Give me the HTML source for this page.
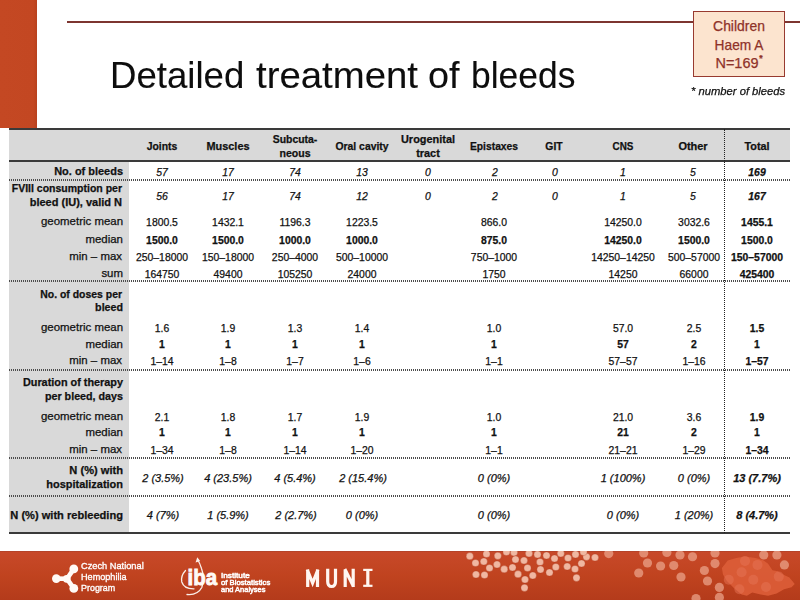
<!DOCTYPE html>
<html><head><meta charset="utf-8"><style>
html,body{margin:0;padding:0;}
body{width:800px;height:600px;position:relative;overflow:hidden;background:#fff;font-family:"Liberation Sans", sans-serif;color:#111;}
.t{position:absolute;white-space:nowrap;-webkit-text-stroke-width:0.25px;}
.a{position:absolute;}
.dh{left:9px;width:781px;height:2px;background:repeating-linear-gradient(90deg,#4d4d4d 0,#4d4d4d 1px,rgba(255,255,255,0) 1px,rgba(255,255,255,0) 2px);}
</style></head><body>
<div class="a" style="left:0;top:0;width:37px;height:128px;background:linear-gradient(90deg,#c44823 0%,#c34722 90%,#b8411e 100%);"></div>
<div class="a" style="left:67px;top:21px;width:733px;height:2px;background:#7d3530;"></div>
<div class="a" style="left:693.2px;top:11.3px;width:89.6px;height:63.3px;background:#fce4cf;border:1.5px solid #983a30;"></div>
<div class="a" style="left:9px;top:129px;width:781px;height:32px;background:#d9d9d9;"></div>
<div class="a" style="left:9px;top:161px;width:120px;height:372px;background:#d9d9d9;"></div>
<div class="a" style="left:9px;top:128px;width:781px;height:2px;background:#3a3a3a;"></div>
<div class="a" style="left:9px;top:160px;width:781px;height:2px;background:#3a3a3a;"></div>
<div class="a" style="left:9px;top:532px;width:781px;height:2px;background:#3a3a3a;"></div>
<div class="a dh" style="top:179px;"></div>
<div class="a dh" style="top:280.3px;"></div>
<div class="a dh" style="top:368.6px;"></div>
<div class="a dh" style="top:456.7px;"></div>
<div class="a dh" style="top:494.6px;"></div>
<div class="a" style="left:723.8px;top:129px;width:0;height:404px;border-left:1.2px dotted #222;"></div>
<svg class="a" style="left:0;top:0" width="800" height="600" viewBox="0 0 800 600">
<defs><linearGradient id="fg" x1="0" y1="0" x2="0" y2="1"><stop offset="0" stop-color="#c8492a"/><stop offset="0.5" stop-color="#c0431f"/><stop offset="1" stop-color="#b43b1b"/></linearGradient><clipPath id="fc"><rect x="0" y="551" width="800" height="49"/></clipPath></defs>
<rect x="0" y="551" width="800" height="49" fill="url(#fg)"/>
<rect x="0" y="551" width="800" height="1" fill="#a8402a" opacity="0.6"/>
<g clip-path="url(#fc)">
<filter id="bl" x="-10%" y="-10%" width="120%" height="120%"><feGaussianBlur stdDeviation="0.7"/></filter>
<polygon points="721.9,568 727.75,560.6 736.25,558 744.75,556.4 755.4,558 762.8,560.1 768.1,563.8 772.4,570.2 777.7,571.25 783,574.4 789.4,577.6 794.7,584 791.5,587.2 784,589.3 776.6,593.6 768.1,595.7 760.7,594.6 752.2,592.5 746.9,595.7 741.6,594.6 734.1,588.3 726.7,580.8 723,574.4" fill="#dc5d38" opacity="0.92" filter="url(#bl)"/>
<circle cx="741.6" cy="572.3" r="5" fill="#e8775a" opacity="0.45" filter="url(#bl)"/>
<circle cx="753.3" cy="579.75" r="5" fill="#e8775a" opacity="0.45" filter="url(#bl)"/>
<circle cx="757.5" cy="564.9" r="5" fill="#e8775a" opacity="0.45" filter="url(#bl)"/>
<circle cx="778.8" cy="576.6" r="5" fill="#e8775a" opacity="0.45" filter="url(#bl)"/>
<circle cx="739.4" cy="589.3" r="5" fill="#e8775a" opacity="0.45" filter="url(#bl)"/>
<circle cx="728.8" cy="579.75" r="5" fill="#e8775a" opacity="0.45" filter="url(#bl)"/>
<circle cx="745" cy="561" r="5" fill="#e8775a" opacity="0.45" filter="url(#bl)"/>
<circle cx="766" cy="587" r="5" fill="#e8775a" opacity="0.45" filter="url(#bl)"/>
<circle cx="469.8" cy="556.2" r="3.6" fill="#f0b7a1" stroke="#a8381c" stroke-opacity="0.35" stroke-width="0.8"/>
<circle cx="475.5" cy="563" r="3.6" fill="#f0b7a1" stroke="#a8381c" stroke-opacity="0.35" stroke-width="0.8"/>
<circle cx="486.5" cy="554" r="3.6" fill="#f0b7a1" stroke="#a8381c" stroke-opacity="0.35" stroke-width="0.8"/>
<circle cx="483.8" cy="561.5" r="3.6" fill="#f0b7a1" stroke="#a8381c" stroke-opacity="0.35" stroke-width="0.8"/>
<circle cx="489.5" cy="568" r="3.6" fill="#f0b7a1" stroke="#a8381c" stroke-opacity="0.35" stroke-width="0.8"/>
<circle cx="476" cy="574.5" r="3.6" fill="#f0b7a1" stroke="#a8381c" stroke-opacity="0.35" stroke-width="0.8"/>
<circle cx="484.5" cy="575" r="3.6" fill="#f0b7a1" stroke="#a8381c" stroke-opacity="0.35" stroke-width="0.8"/>
<circle cx="497.8" cy="555.8" r="3.6" fill="#f0b7a1" stroke="#a8381c" stroke-opacity="0.35" stroke-width="0.8"/>
<circle cx="497" cy="564.5" r="3.6" fill="#f0b7a1" stroke="#a8381c" stroke-opacity="0.35" stroke-width="0.8"/>
<circle cx="504.2" cy="569.2" r="3.6" fill="#f0b7a1" stroke="#a8381c" stroke-opacity="0.35" stroke-width="0.8"/>
<circle cx="506.5" cy="552" r="3.6" fill="#f0b7a1" stroke="#a8381c" stroke-opacity="0.35" stroke-width="0.8"/>
<circle cx="514" cy="552.5" r="3.6" fill="#f0b7a1" stroke="#a8381c" stroke-opacity="0.35" stroke-width="0.8"/>
<circle cx="515.5" cy="559.5" r="3.6" fill="#f0b7a1" stroke="#a8381c" stroke-opacity="0.35" stroke-width="0.8"/>
<circle cx="512.5" cy="567.5" r="3.6" fill="#f0b7a1" stroke="#a8381c" stroke-opacity="0.35" stroke-width="0.8"/>
<circle cx="524" cy="560.5" r="3.6" fill="#f0b7a1" stroke="#a8381c" stroke-opacity="0.35" stroke-width="0.8"/>
<circle cx="529" cy="553.5" r="3.6" fill="#f0b7a1" stroke="#a8381c" stroke-opacity="0.35" stroke-width="0.8"/>
<circle cx="527.5" cy="568" r="3.6" fill="#f0b7a1" stroke="#a8381c" stroke-opacity="0.35" stroke-width="0.8"/>
<circle cx="518" cy="574.2" r="3.6" fill="#f0b7a1" stroke="#a8381c" stroke-opacity="0.35" stroke-width="0.8"/>
<circle cx="525" cy="579.5" r="3.6" fill="#f0b7a1" stroke="#a8381c" stroke-opacity="0.35" stroke-width="0.8"/>
<circle cx="524.5" cy="587.8" r="3.6" fill="#f0b7a1" stroke="#a8381c" stroke-opacity="0.35" stroke-width="0.8"/>
<circle cx="532.8" cy="575.5" r="3.6" fill="#f0b7a1" stroke="#a8381c" stroke-opacity="0.35" stroke-width="0.8"/>
<circle cx="537.5" cy="554.5" r="3.6" fill="#f0b7a1" stroke="#a8381c" stroke-opacity="0.35" stroke-width="0.8"/>
<circle cx="540" cy="562" r="3.6" fill="#f0b7a1" stroke="#a8381c" stroke-opacity="0.35" stroke-width="0.8"/>
<circle cx="540.5" cy="569.5" r="3.6" fill="#f0b7a1" stroke="#a8381c" stroke-opacity="0.35" stroke-width="0.8"/>
<circle cx="546.5" cy="555.5" r="3.6" fill="#f0b7a1" stroke="#a8381c" stroke-opacity="0.35" stroke-width="0.8"/>
<circle cx="549.5" cy="572.5" r="3.6" fill="#f0b7a1" stroke="#a8381c" stroke-opacity="0.35" stroke-width="0.8"/>
<circle cx="554.5" cy="558.5" r="3.6" fill="#f0b7a1" stroke="#a8381c" stroke-opacity="0.35" stroke-width="0.8"/>
<circle cx="555.8" cy="567" r="3.6" fill="#f0b7a1" stroke="#a8381c" stroke-opacity="0.35" stroke-width="0.8"/>
<circle cx="560.8" cy="553.5" r="3.6" fill="#f0b7a1" stroke="#a8381c" stroke-opacity="0.35" stroke-width="0.8"/>
<circle cx="568" cy="558" r="3.6" fill="#f0b7a1" stroke="#a8381c" stroke-opacity="0.35" stroke-width="0.8"/>
<circle cx="567.2" cy="566.5" r="3.6" fill="#f0b7a1" stroke="#a8381c" stroke-opacity="0.35" stroke-width="0.8"/>
<circle cx="575.5" cy="554.5" r="3.6" fill="#f0b7a1" stroke="#a8381c" stroke-opacity="0.35" stroke-width="0.8"/>
<circle cx="575" cy="569" r="3.6" fill="#f0b7a1" stroke="#a8381c" stroke-opacity="0.35" stroke-width="0.8"/>
<circle cx="581.5" cy="563.5" r="3.6" fill="#f0b7a1" stroke="#a8381c" stroke-opacity="0.35" stroke-width="0.8"/>
<circle cx="576.5" cy="577.8" r="3.6" fill="#f0b7a1" stroke="#a8381c" stroke-opacity="0.35" stroke-width="0.8"/>
<circle cx="586.5" cy="556.8" r="3.6" fill="#f0b7a1" stroke="#a8381c" stroke-opacity="0.35" stroke-width="0.8"/>
<circle cx="595" cy="557.5" r="3.6" fill="#f0b7a1" stroke="#a8381c" stroke-opacity="0.35" stroke-width="0.8"/>
<circle cx="583.5" cy="552" r="3.6" fill="#f0b7a1" stroke="#a8381c" stroke-opacity="0.35" stroke-width="0.8"/>
<circle cx="608.75" cy="553.6" r="4.6" fill="#eca58c" opacity="0.72" filter="url(#bl)"/>
<circle cx="643.75" cy="553" r="4.6" fill="#eca58c" opacity="0.72" filter="url(#bl)"/>
<circle cx="647.5" cy="563" r="4.6" fill="#eca58c" opacity="0.72" filter="url(#bl)"/>
<circle cx="638.75" cy="573" r="4.6" fill="#eca58c" opacity="0.72" filter="url(#bl)"/>
<circle cx="660.6" cy="566" r="4.6" fill="#eca58c" opacity="0.72" filter="url(#bl)"/>
<circle cx="673.75" cy="565.5" r="4.6" fill="#eca58c" opacity="0.72" filter="url(#bl)"/>
<circle cx="681" cy="577" r="4.6" fill="#eca58c" opacity="0.72" filter="url(#bl)"/>
<circle cx="666.9" cy="552.4" r="4.6" fill="#eca58c" opacity="0.72" filter="url(#bl)"/>
<circle cx="680" cy="555" r="4.6" fill="#eca58c" opacity="0.72" filter="url(#bl)"/>
<circle cx="692.5" cy="556.75" r="4.6" fill="#eca58c" opacity="0.72" filter="url(#bl)"/>
<circle cx="696" cy="598.6" r="4.6" fill="#eca58c" opacity="0.72" filter="url(#bl)"/>
<circle cx="715" cy="553" r="4.6" fill="#eca58c" opacity="0.72" filter="url(#bl)"/>
<circle cx="715" cy="563.6" r="4.6" fill="#eca58c" opacity="0.72" filter="url(#bl)"/>
<circle cx="704.4" cy="570.5" r="4.6" fill="#eca58c" opacity="0.72" filter="url(#bl)"/>
<circle cx="707.5" cy="581" r="4.6" fill="#eca58c" opacity="0.72" filter="url(#bl)"/>
<circle cx="719.4" cy="587.4" r="4.6" fill="#eca58c" opacity="0.72" filter="url(#bl)"/>
<circle cx="719.4" cy="597.4" r="4.6" fill="#eca58c" opacity="0.72" filter="url(#bl)"/>
<circle cx="763.75" cy="554.9" r="4.6" fill="#eca58c" opacity="0.72" filter="url(#bl)"/>
<circle cx="776.9" cy="554.9" r="4.6" fill="#eca58c" opacity="0.72" filter="url(#bl)"/>
<circle cx="784.4" cy="564.9" r="4.6" fill="#eca58c" opacity="0.72" filter="url(#bl)"/>
</g>
<g fill="#fffaf6" stroke="#fffaf6"><path d="M56.3,578.6 L67,578.8 L73.8,568.9 M67,578.8 L73.8,588.4" stroke-width="4.6" fill="none" stroke-linecap="round" stroke-linejoin="round"/><circle cx="66.8" cy="578.8" r="3.9" stroke="none"/><circle cx="56.3" cy="578.6" r="4.3" stroke="none"/><circle cx="73.8" cy="568.9" r="4.4" stroke="none"/><circle cx="73.8" cy="588.4" r="4.4" stroke="none"/></g>
<g fill="none" stroke="#fbeee8" stroke-width="1.3" stroke-linecap="round"><path d="M185.5,570.5 Q180.5,576 181.8,582 Q184,589 194,588.8"/><path d="M187,594.5 Q197.5,595.5 201.8,587.5 Q205,578 201.5,568.5 Q199.8,563 197.8,560"/></g>
<path d="M197.2,557.2 L195.6,562.6 L200.2,561 Z" fill="#fbeee8"/>
<text x="187.6" y="584.8" font-family="Liberation Sans" font-weight="bold" font-size="22.5" fill="#fffaf6" stroke="#fffaf6" stroke-width="0.9" textLength="29.5" lengthAdjust="spacingAndGlyphs">iba</text>
<g fill="none" stroke="#fff6f0" stroke-width="3.2" stroke-linejoin="miter"><path d="M307.7,587 L307.7,569.5 M307.2,569.5 L312.6,583 L318,569.5 M317.5,569.5 L317.5,587"/><path d="M327.7,568.8 L327.7,581.5 Q327.7,586.5 331.6,586.5 Q335.5,586.5 335.5,581.5 L335.5,568.8"/><path d="M345.2,587 L345.2,569.5 M344.8,569 L353.5,586.5 M353.2,587 L353.2,568.8"/><path d="M367.8,569.5 L367.8,586"/></g>
<g fill="#fff6f0"><rect x="363.2" y="568.8" width="9.3" height="2.2"/><rect x="363.2" y="584.7" width="9.3" height="2.2"/></g>
</svg>
<div class="t" style="left:162.23px;top:140.97px;font-size:10.9px;line-height:10.9px;font-weight:bold;transform:translateX(-50%) scaleX(0.9527);transform-origin:center;">Joints</div>
<div class="t" style="left:228.03px;top:140.97px;font-size:10.9px;line-height:10.9px;font-weight:bold;transform:translateX(-50%) scaleX(1.0018);transform-origin:center;">Muscles</div>
<div class="t" style="left:294.82px;top:134.17px;font-size:10.9px;line-height:10.9px;font-weight:bold;transform:translateX(-50%) scaleX(0.9582);transform-origin:center;">Subcuta-</div>
<div class="t" style="left:295.03px;top:147.87px;font-size:10.9px;line-height:10.9px;font-weight:bold;transform:translateX(-50%) scaleX(0.9683);transform-origin:center;">neous</div>
<div class="t" style="left:362.03px;top:140.97px;font-size:10.9px;line-height:10.9px;font-weight:bold;transform:translateX(-50%) scaleX(0.9525);transform-origin:center;">Oral cavity</div>
<div class="t" style="left:428.41px;top:134.17px;font-size:10.9px;line-height:10.9px;font-weight:bold;transform:translateX(-50%) scaleX(1.0032);transform-origin:center;">Urogenital</div>
<div class="t" style="left:428.21px;top:147.87px;font-size:10.9px;line-height:10.9px;font-weight:bold;transform:translateX(-50%) scaleX(1.0009);transform-origin:center;">tract</div>
<div class="t" style="left:494.03px;top:140.97px;font-size:10.9px;line-height:10.9px;font-weight:bold;transform:translateX(-50%) scaleX(0.9450);transform-origin:center;">Epistaxes</div>
<div class="t" style="left:554.43px;top:140.97px;font-size:10.9px;line-height:10.9px;font-weight:bold;transform:translateX(-50%) scaleX(0.9515);transform-origin:center;">GIT</div>
<div class="t" style="left:622.82px;top:140.97px;font-size:10.9px;line-height:10.9px;font-weight:bold;transform:translateX(-50%) scaleX(0.9063);transform-origin:center;">CNS</div>
<div class="t" style="left:693.32px;top:140.97px;font-size:10.9px;line-height:10.9px;font-weight:bold;transform:translateX(-50%) scaleX(1.0065);transform-origin:center;">Other</div>
<div class="t" style="left:757.31px;top:140.97px;font-size:10.9px;line-height:10.9px;font-weight:bold;transform:translateX(-50%) scaleX(0.9929);transform-origin:center;">Total</div>
<div class="t" style="left:122.56px;top:165.97px;font-size:10.9px;line-height:10.9px;font-weight:bold;transform:translateX(-100%) scaleX(1.0063);transform-origin:right;">No. of bleeds</div>
<div class="t" style="left:161.75px;top:166.77px;font-size:10.9px;line-height:10.9px;font-style:italic;transform:translateX(-50%) scaleX(0.9550);transform-origin:center;">57</div>
<div class="t" style="left:227.55px;top:166.77px;font-size:10.9px;line-height:10.9px;font-style:italic;transform:translateX(-50%) scaleX(0.9550);transform-origin:center;">17</div>
<div class="t" style="left:294.55px;top:166.77px;font-size:10.9px;line-height:10.9px;font-style:italic;transform:translateX(-50%) scaleX(0.9550);transform-origin:center;">74</div>
<div class="t" style="left:362.03px;top:166.77px;font-size:10.9px;line-height:10.9px;font-style:italic;transform:translateX(-50%) scaleX(0.9550);transform-origin:center;">13</div>
<div class="t" style="left:428.43px;top:166.77px;font-size:10.9px;line-height:10.9px;font-style:italic;transform:translateX(-50%) scaleX(0.9550);transform-origin:center;">0</div>
<div class="t" style="left:494.50px;top:166.77px;font-size:10.9px;line-height:10.9px;font-style:italic;transform:translateX(-50%) scaleX(0.9550);transform-origin:center;">2</div>
<div class="t" style="left:554.63px;top:166.77px;font-size:10.9px;line-height:10.9px;font-style:italic;transform:translateX(-50%) scaleX(0.9550);transform-origin:center;">0</div>
<div class="t" style="left:622.73px;top:166.77px;font-size:10.9px;line-height:10.9px;font-style:italic;transform:translateX(-50%) scaleX(0.9550);transform-origin:center;">1</div>
<div class="t" style="left:693.25px;top:166.77px;font-size:10.9px;line-height:10.9px;font-style:italic;transform:translateX(-50%) scaleX(0.9550);transform-origin:center;">5</div>
<div class="t" style="left:756.85px;top:166.77px;font-size:10.9px;line-height:10.9px;font-weight:bold;font-style:italic;transform:translateX(-50%) scaleX(0.9550);transform-origin:center;">169</div>
<div class="t" style="left:121.77px;top:183.37px;font-size:10.9px;line-height:10.9px;font-weight:bold;transform:translateX(-100%) scaleX(0.9642);transform-origin:right;">FVIII consumption per</div>
<div class="t" style="left:122.36px;top:197.47px;font-size:10.9px;line-height:10.9px;font-weight:bold;transform:translateX(-100%) scaleX(1.0100);transform-origin:right;">bleed (IU), valid N</div>
<div class="t" style="left:161.75px;top:190.87px;font-size:10.9px;line-height:10.9px;font-style:italic;transform:translateX(-50%) scaleX(0.9550);transform-origin:center;">56</div>
<div class="t" style="left:227.55px;top:190.87px;font-size:10.9px;line-height:10.9px;font-style:italic;transform:translateX(-50%) scaleX(0.9550);transform-origin:center;">17</div>
<div class="t" style="left:294.55px;top:190.87px;font-size:10.9px;line-height:10.9px;font-style:italic;transform:translateX(-50%) scaleX(0.9550);transform-origin:center;">74</div>
<div class="t" style="left:362.03px;top:190.87px;font-size:10.9px;line-height:10.9px;font-style:italic;transform:translateX(-50%) scaleX(0.9550);transform-origin:center;">12</div>
<div class="t" style="left:428.43px;top:190.87px;font-size:10.9px;line-height:10.9px;font-style:italic;transform:translateX(-50%) scaleX(0.9550);transform-origin:center;">0</div>
<div class="t" style="left:494.50px;top:190.87px;font-size:10.9px;line-height:10.9px;font-style:italic;transform:translateX(-50%) scaleX(0.9550);transform-origin:center;">2</div>
<div class="t" style="left:554.63px;top:190.87px;font-size:10.9px;line-height:10.9px;font-style:italic;transform:translateX(-50%) scaleX(0.9550);transform-origin:center;">0</div>
<div class="t" style="left:622.73px;top:190.87px;font-size:10.9px;line-height:10.9px;font-style:italic;transform:translateX(-50%) scaleX(0.9550);transform-origin:center;">1</div>
<div class="t" style="left:693.25px;top:190.87px;font-size:10.9px;line-height:10.9px;font-style:italic;transform:translateX(-50%) scaleX(0.9550);transform-origin:center;">5</div>
<div class="t" style="left:756.85px;top:190.87px;font-size:10.9px;line-height:10.9px;font-weight:bold;font-style:italic;transform:translateX(-50%) scaleX(0.9550);transform-origin:center;">167</div>
<div class="t" style="left:122.56px;top:216.27px;font-size:10.9px;line-height:10.9px;transform:translateX(-100%) scaleX(1.0500);transform-origin:right;">geometric mean</div>
<div class="t" style="left:162.23px;top:216.87px;font-size:10.9px;line-height:10.9px;transform:translateX(-50%) scaleX(0.9550);transform-origin:center;">1800.5</div>
<div class="t" style="left:228.03px;top:216.87px;font-size:10.9px;line-height:10.9px;transform:translateX(-50%) scaleX(0.9550);transform-origin:center;">1432.1</div>
<div class="t" style="left:295.03px;top:216.87px;font-size:10.9px;line-height:10.9px;transform:translateX(-50%) scaleX(0.9550);transform-origin:center;">1196.3</div>
<div class="t" style="left:362.03px;top:216.87px;font-size:10.9px;line-height:10.9px;transform:translateX(-50%) scaleX(0.9550);transform-origin:center;">1223.5</div>
<div class="t" style="left:494.03px;top:216.87px;font-size:10.9px;line-height:10.9px;transform:translateX(-50%) scaleX(0.9550);transform-origin:center;">866.0</div>
<div class="t" style="left:622.73px;top:216.87px;font-size:10.9px;line-height:10.9px;transform:translateX(-50%) scaleX(0.9550);transform-origin:center;">14250.0</div>
<div class="t" style="left:693.73px;top:216.87px;font-size:10.9px;line-height:10.9px;transform:translateX(-50%) scaleX(0.9550);transform-origin:center;">3032.6</div>
<div class="t" style="left:757.33px;top:216.87px;font-size:10.9px;line-height:10.9px;font-weight:bold;transform:translateX(-50%) scaleX(0.9550);transform-origin:center;">1455.1</div>
<div class="t" style="left:122.56px;top:234.07px;font-size:10.9px;line-height:10.9px;transform:translateX(-100%) scaleX(1.0500);transform-origin:right;">median</div>
<div class="t" style="left:162.23px;top:234.67px;font-size:10.9px;line-height:10.9px;font-weight:bold;transform:translateX(-50%) scaleX(0.9550);transform-origin:center;">1500.0</div>
<div class="t" style="left:228.03px;top:234.67px;font-size:10.9px;line-height:10.9px;font-weight:bold;transform:translateX(-50%) scaleX(0.9550);transform-origin:center;">1500.0</div>
<div class="t" style="left:295.03px;top:234.67px;font-size:10.9px;line-height:10.9px;font-weight:bold;transform:translateX(-50%) scaleX(0.9550);transform-origin:center;">1000.0</div>
<div class="t" style="left:362.03px;top:234.67px;font-size:10.9px;line-height:10.9px;font-weight:bold;transform:translateX(-50%) scaleX(0.9550);transform-origin:center;">1000.0</div>
<div class="t" style="left:494.03px;top:234.67px;font-size:10.9px;line-height:10.9px;font-weight:bold;transform:translateX(-50%) scaleX(0.9550);transform-origin:center;">875.0</div>
<div class="t" style="left:622.73px;top:234.67px;font-size:10.9px;line-height:10.9px;font-weight:bold;transform:translateX(-50%) scaleX(0.9550);transform-origin:center;">14250.0</div>
<div class="t" style="left:693.73px;top:234.67px;font-size:10.9px;line-height:10.9px;font-weight:bold;transform:translateX(-50%) scaleX(0.9550);transform-origin:center;">1500.0</div>
<div class="t" style="left:757.33px;top:234.67px;font-size:10.9px;line-height:10.9px;font-weight:bold;transform:translateX(-50%) scaleX(0.9550);transform-origin:center;">1500.0</div>
<div class="t" style="left:121.92px;top:250.97px;font-size:10.9px;line-height:10.9px;transform:translateX(-100%) scaleX(1.0500);transform-origin:right;">min – max</div>
<div class="t" style="left:162.23px;top:251.57px;font-size:10.9px;line-height:10.9px;transform:translateX(-50%) scaleX(0.9550);transform-origin:center;">250–18000</div>
<div class="t" style="left:228.03px;top:251.57px;font-size:10.9px;line-height:10.9px;transform:translateX(-50%) scaleX(0.9550);transform-origin:center;">150–18000</div>
<div class="t" style="left:295.03px;top:251.57px;font-size:10.9px;line-height:10.9px;transform:translateX(-50%) scaleX(0.9550);transform-origin:center;">250–4000</div>
<div class="t" style="left:362.03px;top:251.57px;font-size:10.9px;line-height:10.9px;transform:translateX(-50%) scaleX(0.9550);transform-origin:center;">500–10000</div>
<div class="t" style="left:494.03px;top:251.57px;font-size:10.9px;line-height:10.9px;transform:translateX(-50%) scaleX(0.9550);transform-origin:center;">750–1000</div>
<div class="t" style="left:622.73px;top:251.57px;font-size:10.9px;line-height:10.9px;transform:translateX(-50%) scaleX(0.9550);transform-origin:center;">14250–14250</div>
<div class="t" style="left:693.73px;top:251.57px;font-size:10.9px;line-height:10.9px;transform:translateX(-50%) scaleX(0.9550);transform-origin:center;">500–57000</div>
<div class="t" style="left:757.33px;top:251.57px;font-size:10.9px;line-height:10.9px;font-weight:bold;transform:translateX(-50%) scaleX(0.9550);transform-origin:center;">150–57000</div>
<div class="t" style="left:122.58px;top:268.47px;font-size:10.9px;line-height:10.9px;transform:translateX(-100%) scaleX(1.0500);transform-origin:right;">sum</div>
<div class="t" style="left:162.23px;top:269.07px;font-size:10.9px;line-height:10.9px;transform:translateX(-50%) scaleX(0.9550);transform-origin:center;">164750</div>
<div class="t" style="left:228.03px;top:269.07px;font-size:10.9px;line-height:10.9px;transform:translateX(-50%) scaleX(0.9550);transform-origin:center;">49400</div>
<div class="t" style="left:295.03px;top:269.07px;font-size:10.9px;line-height:10.9px;transform:translateX(-50%) scaleX(0.9550);transform-origin:center;">105250</div>
<div class="t" style="left:362.03px;top:269.07px;font-size:10.9px;line-height:10.9px;transform:translateX(-50%) scaleX(0.9550);transform-origin:center;">24000</div>
<div class="t" style="left:494.03px;top:269.07px;font-size:10.9px;line-height:10.9px;transform:translateX(-50%) scaleX(0.9550);transform-origin:center;">1750</div>
<div class="t" style="left:622.73px;top:269.07px;font-size:10.9px;line-height:10.9px;transform:translateX(-50%) scaleX(0.9550);transform-origin:center;">14250</div>
<div class="t" style="left:693.73px;top:269.07px;font-size:10.9px;line-height:10.9px;transform:translateX(-50%) scaleX(0.9550);transform-origin:center;">66000</div>
<div class="t" style="left:757.33px;top:269.07px;font-size:10.9px;line-height:10.9px;font-weight:bold;transform:translateX(-50%) scaleX(0.9550);transform-origin:center;">425400</div>
<div class="t" style="left:121.77px;top:288.57px;font-size:10.9px;line-height:10.9px;font-weight:bold;transform:translateX(-100%) scaleX(0.9584);transform-origin:right;">No. of doses per</div>
<div class="t" style="left:123.14px;top:302.37px;font-size:10.9px;line-height:10.9px;font-weight:bold;transform:translateX(-100%) scaleX(0.9800);transform-origin:right;">bleed</div>
<div class="t" style="left:122.56px;top:322.47px;font-size:10.9px;line-height:10.9px;transform:translateX(-100%) scaleX(1.0500);transform-origin:right;">geometric mean</div>
<div class="t" style="left:162.23px;top:323.07px;font-size:10.9px;line-height:10.9px;transform:translateX(-50%) scaleX(0.9550);transform-origin:center;">1.6</div>
<div class="t" style="left:228.03px;top:323.07px;font-size:10.9px;line-height:10.9px;transform:translateX(-50%) scaleX(0.9550);transform-origin:center;">1.9</div>
<div class="t" style="left:295.03px;top:323.07px;font-size:10.9px;line-height:10.9px;transform:translateX(-50%) scaleX(0.9550);transform-origin:center;">1.3</div>
<div class="t" style="left:362.03px;top:323.07px;font-size:10.9px;line-height:10.9px;transform:translateX(-50%) scaleX(0.9550);transform-origin:center;">1.4</div>
<div class="t" style="left:494.03px;top:323.07px;font-size:10.9px;line-height:10.9px;transform:translateX(-50%) scaleX(0.9550);transform-origin:center;">1.0</div>
<div class="t" style="left:622.73px;top:323.07px;font-size:10.9px;line-height:10.9px;transform:translateX(-50%) scaleX(0.9550);transform-origin:center;">57.0</div>
<div class="t" style="left:693.73px;top:323.07px;font-size:10.9px;line-height:10.9px;transform:translateX(-50%) scaleX(0.9550);transform-origin:center;">2.5</div>
<div class="t" style="left:757.33px;top:323.07px;font-size:10.9px;line-height:10.9px;font-weight:bold;transform:translateX(-50%) scaleX(0.9550);transform-origin:center;">1.5</div>
<div class="t" style="left:122.56px;top:338.77px;font-size:10.9px;line-height:10.9px;transform:translateX(-100%) scaleX(1.0500);transform-origin:right;">median</div>
<div class="t" style="left:162.23px;top:339.37px;font-size:10.9px;line-height:10.9px;font-weight:bold;transform:translateX(-50%) scaleX(0.9550);transform-origin:center;">1</div>
<div class="t" style="left:228.03px;top:339.37px;font-size:10.9px;line-height:10.9px;font-weight:bold;transform:translateX(-50%) scaleX(0.9550);transform-origin:center;">1</div>
<div class="t" style="left:295.03px;top:339.37px;font-size:10.9px;line-height:10.9px;font-weight:bold;transform:translateX(-50%) scaleX(0.9550);transform-origin:center;">1</div>
<div class="t" style="left:362.03px;top:339.37px;font-size:10.9px;line-height:10.9px;font-weight:bold;transform:translateX(-50%) scaleX(0.9550);transform-origin:center;">1</div>
<div class="t" style="left:494.03px;top:339.37px;font-size:10.9px;line-height:10.9px;font-weight:bold;transform:translateX(-50%) scaleX(0.9550);transform-origin:center;">1</div>
<div class="t" style="left:622.73px;top:339.37px;font-size:10.9px;line-height:10.9px;font-weight:bold;transform:translateX(-50%) scaleX(0.9550);transform-origin:center;">57</div>
<div class="t" style="left:693.73px;top:339.37px;font-size:10.9px;line-height:10.9px;font-weight:bold;transform:translateX(-50%) scaleX(0.9550);transform-origin:center;">2</div>
<div class="t" style="left:757.33px;top:339.37px;font-size:10.9px;line-height:10.9px;font-weight:bold;transform:translateX(-50%) scaleX(0.9550);transform-origin:center;">1</div>
<div class="t" style="left:121.92px;top:355.47px;font-size:10.9px;line-height:10.9px;transform:translateX(-100%) scaleX(1.0500);transform-origin:right;">min – max</div>
<div class="t" style="left:162.23px;top:356.07px;font-size:10.9px;line-height:10.9px;transform:translateX(-50%) scaleX(0.9550);transform-origin:center;">1–14</div>
<div class="t" style="left:228.03px;top:356.07px;font-size:10.9px;line-height:10.9px;transform:translateX(-50%) scaleX(0.9550);transform-origin:center;">1–8</div>
<div class="t" style="left:295.03px;top:356.07px;font-size:10.9px;line-height:10.9px;transform:translateX(-50%) scaleX(0.9550);transform-origin:center;">1–7</div>
<div class="t" style="left:362.03px;top:356.07px;font-size:10.9px;line-height:10.9px;transform:translateX(-50%) scaleX(0.9550);transform-origin:center;">1–6</div>
<div class="t" style="left:494.03px;top:356.07px;font-size:10.9px;line-height:10.9px;transform:translateX(-50%) scaleX(0.9550);transform-origin:center;">1–1</div>
<div class="t" style="left:622.73px;top:356.07px;font-size:10.9px;line-height:10.9px;transform:translateX(-50%) scaleX(0.9550);transform-origin:center;">57–57</div>
<div class="t" style="left:693.73px;top:356.07px;font-size:10.9px;line-height:10.9px;transform:translateX(-50%) scaleX(0.9550);transform-origin:center;">1–16</div>
<div class="t" style="left:757.33px;top:356.07px;font-size:10.9px;line-height:10.9px;font-weight:bold;transform:translateX(-50%) scaleX(0.9550);transform-origin:center;">1–57</div>
<div class="t" style="left:122.56px;top:376.77px;font-size:10.9px;line-height:10.9px;font-weight:bold;transform:translateX(-100%) scaleX(0.9962);transform-origin:right;">Duration of therapy</div>
<div class="t" style="left:122.56px;top:390.77px;font-size:10.9px;line-height:10.9px;font-weight:bold;transform:translateX(-100%) scaleX(0.9844);transform-origin:right;">per bleed, days</div>
<div class="t" style="left:122.56px;top:410.97px;font-size:10.9px;line-height:10.9px;transform:translateX(-100%) scaleX(1.0500);transform-origin:right;">geometric mean</div>
<div class="t" style="left:162.23px;top:411.57px;font-size:10.9px;line-height:10.9px;transform:translateX(-50%) scaleX(0.9550);transform-origin:center;">2.1</div>
<div class="t" style="left:228.03px;top:411.57px;font-size:10.9px;line-height:10.9px;transform:translateX(-50%) scaleX(0.9550);transform-origin:center;">1.8</div>
<div class="t" style="left:295.03px;top:411.57px;font-size:10.9px;line-height:10.9px;transform:translateX(-50%) scaleX(0.9550);transform-origin:center;">1.7</div>
<div class="t" style="left:362.03px;top:411.57px;font-size:10.9px;line-height:10.9px;transform:translateX(-50%) scaleX(0.9550);transform-origin:center;">1.9</div>
<div class="t" style="left:494.03px;top:411.57px;font-size:10.9px;line-height:10.9px;transform:translateX(-50%) scaleX(0.9550);transform-origin:center;">1.0</div>
<div class="t" style="left:622.73px;top:411.57px;font-size:10.9px;line-height:10.9px;transform:translateX(-50%) scaleX(0.9550);transform-origin:center;">21.0</div>
<div class="t" style="left:693.73px;top:411.57px;font-size:10.9px;line-height:10.9px;transform:translateX(-50%) scaleX(0.9550);transform-origin:center;">3.6</div>
<div class="t" style="left:757.33px;top:411.57px;font-size:10.9px;line-height:10.9px;font-weight:bold;transform:translateX(-50%) scaleX(0.9550);transform-origin:center;">1.9</div>
<div class="t" style="left:122.56px;top:426.77px;font-size:10.9px;line-height:10.9px;transform:translateX(-100%) scaleX(1.0500);transform-origin:right;">median</div>
<div class="t" style="left:162.23px;top:427.37px;font-size:10.9px;line-height:10.9px;font-weight:bold;transform:translateX(-50%) scaleX(0.9550);transform-origin:center;">1</div>
<div class="t" style="left:228.03px;top:427.37px;font-size:10.9px;line-height:10.9px;font-weight:bold;transform:translateX(-50%) scaleX(0.9550);transform-origin:center;">1</div>
<div class="t" style="left:295.03px;top:427.37px;font-size:10.9px;line-height:10.9px;font-weight:bold;transform:translateX(-50%) scaleX(0.9550);transform-origin:center;">1</div>
<div class="t" style="left:362.03px;top:427.37px;font-size:10.9px;line-height:10.9px;font-weight:bold;transform:translateX(-50%) scaleX(0.9550);transform-origin:center;">1</div>
<div class="t" style="left:494.03px;top:427.37px;font-size:10.9px;line-height:10.9px;font-weight:bold;transform:translateX(-50%) scaleX(0.9550);transform-origin:center;">1</div>
<div class="t" style="left:622.73px;top:427.37px;font-size:10.9px;line-height:10.9px;font-weight:bold;transform:translateX(-50%) scaleX(0.9550);transform-origin:center;">21</div>
<div class="t" style="left:693.73px;top:427.37px;font-size:10.9px;line-height:10.9px;font-weight:bold;transform:translateX(-50%) scaleX(0.9550);transform-origin:center;">2</div>
<div class="t" style="left:757.33px;top:427.37px;font-size:10.9px;line-height:10.9px;font-weight:bold;transform:translateX(-50%) scaleX(0.9550);transform-origin:center;">1</div>
<div class="t" style="left:121.92px;top:444.17px;font-size:10.9px;line-height:10.9px;transform:translateX(-100%) scaleX(1.0500);transform-origin:right;">min – max</div>
<div class="t" style="left:162.23px;top:444.77px;font-size:10.9px;line-height:10.9px;transform:translateX(-50%) scaleX(0.9550);transform-origin:center;">1–34</div>
<div class="t" style="left:228.03px;top:444.77px;font-size:10.9px;line-height:10.9px;transform:translateX(-50%) scaleX(0.9550);transform-origin:center;">1–8</div>
<div class="t" style="left:295.03px;top:444.77px;font-size:10.9px;line-height:10.9px;transform:translateX(-50%) scaleX(0.9550);transform-origin:center;">1–14</div>
<div class="t" style="left:362.03px;top:444.77px;font-size:10.9px;line-height:10.9px;transform:translateX(-50%) scaleX(0.9550);transform-origin:center;">1–20</div>
<div class="t" style="left:494.03px;top:444.77px;font-size:10.9px;line-height:10.9px;transform:translateX(-50%) scaleX(0.9550);transform-origin:center;">1–1</div>
<div class="t" style="left:622.73px;top:444.77px;font-size:10.9px;line-height:10.9px;transform:translateX(-50%) scaleX(0.9550);transform-origin:center;">21–21</div>
<div class="t" style="left:693.73px;top:444.77px;font-size:10.9px;line-height:10.9px;transform:translateX(-50%) scaleX(0.9550);transform-origin:center;">1–29</div>
<div class="t" style="left:757.33px;top:444.77px;font-size:10.9px;line-height:10.9px;font-weight:bold;transform:translateX(-50%) scaleX(0.9550);transform-origin:center;">1–34</div>
<div class="t" style="left:123.17px;top:465.17px;font-size:10.9px;line-height:10.9px;font-weight:bold;transform:translateX(-100%) scaleX(1.0197);transform-origin:right;">N (%) with</div>
<div class="t" style="left:123.16px;top:478.97px;font-size:10.9px;line-height:10.9px;font-weight:bold;transform:translateX(-100%) scaleX(1.0055);transform-origin:right;">hospitalization</div>
<div class="t" style="left:163.02px;top:473.07px;font-size:10.9px;line-height:10.9px;font-style:italic;transform:translateX(-50%) scaleX(1.0100);transform-origin:center;">2 (3.5%)</div>
<div class="t" style="left:228.32px;top:473.07px;font-size:10.9px;line-height:10.9px;font-style:italic;transform:translateX(-50%) scaleX(1.0100);transform-origin:center;">4 (23.5%)</div>
<div class="t" style="left:295.32px;top:473.07px;font-size:10.9px;line-height:10.9px;font-style:italic;transform:translateX(-50%) scaleX(1.0100);transform-origin:center;">4 (5.4%)</div>
<div class="t" style="left:362.82px;top:473.07px;font-size:10.9px;line-height:10.9px;font-style:italic;transform:translateX(-50%) scaleX(1.0100);transform-origin:center;">2 (15.4%)</div>
<div class="t" style="left:494.32px;top:473.07px;font-size:10.9px;line-height:10.9px;font-style:italic;transform:translateX(-50%) scaleX(1.0100);transform-origin:center;">0 (0%)</div>
<div class="t" style="left:623.02px;top:473.07px;font-size:10.9px;line-height:10.9px;font-style:italic;transform:translateX(-50%) scaleX(1.0100);transform-origin:center;">1 (100%)</div>
<div class="t" style="left:694.02px;top:473.07px;font-size:10.9px;line-height:10.9px;font-style:italic;transform:translateX(-50%) scaleX(1.0100);transform-origin:center;">0 (0%)</div>
<div class="t" style="left:757.11px;top:473.07px;font-size:10.9px;line-height:10.9px;font-weight:bold;font-style:italic;transform:translateX(-50%) scaleX(1.0100);transform-origin:center;">13 (7.7%)</div>
<div class="t" style="left:123.16px;top:509.67px;font-size:10.9px;line-height:10.9px;font-weight:bold;transform:translateX(-100%) scaleX(1.0175);transform-origin:right;">N (%) with rebleeding</div>
<div class="t" style="left:162.52px;top:510.47px;font-size:10.9px;line-height:10.9px;font-style:italic;transform:translateX(-50%) scaleX(1.0100);transform-origin:center;">4 (7%)</div>
<div class="t" style="left:228.32px;top:510.47px;font-size:10.9px;line-height:10.9px;font-style:italic;transform:translateX(-50%) scaleX(1.0100);transform-origin:center;">1 (5.9%)</div>
<div class="t" style="left:295.82px;top:510.47px;font-size:10.9px;line-height:10.9px;font-style:italic;transform:translateX(-50%) scaleX(1.0100);transform-origin:center;">2 (2.7%)</div>
<div class="t" style="left:362.32px;top:510.47px;font-size:10.9px;line-height:10.9px;font-style:italic;transform:translateX(-50%) scaleX(1.0100);transform-origin:center;">0 (0%)</div>
<div class="t" style="left:494.32px;top:510.47px;font-size:10.9px;line-height:10.9px;font-style:italic;transform:translateX(-50%) scaleX(1.0100);transform-origin:center;">0 (0%)</div>
<div class="t" style="left:623.02px;top:510.47px;font-size:10.9px;line-height:10.9px;font-style:italic;transform:translateX(-50%) scaleX(1.0100);transform-origin:center;">0 (0%)</div>
<div class="t" style="left:694.02px;top:510.47px;font-size:10.9px;line-height:10.9px;font-style:italic;transform:translateX(-50%) scaleX(1.0100);transform-origin:center;">1 (20%)</div>
<div class="t" style="left:757.11px;top:510.47px;font-size:10.9px;line-height:10.9px;font-weight:bold;font-style:italic;transform:translateX(-50%) scaleX(1.0100);transform-origin:center;">8 (4.7%)</div>
<div class="t" style="left:109.83px;top:57.16px;font-size:37.0px;line-height:37.0px;color:#0d0d0d;transform:scaleX(0.9888);transform-origin:left;-webkit-text-stroke-width:0.1px;">Detailed</div>
<div class="t" style="left:255.50px;top:57.16px;font-size:37.0px;line-height:37.0px;color:#0d0d0d;transform:scaleX(1.0362);transform-origin:left;-webkit-text-stroke-width:0.1px;">treatment</div>
<div class="t" style="left:427.78px;top:57.16px;font-size:37.0px;line-height:37.0px;color:#0d0d0d;transform:scaleX(1.0204);transform-origin:left;-webkit-text-stroke-width:0.1px;">of</div>
<div class="t" style="left:470.59px;top:57.16px;font-size:37.0px;line-height:37.0px;color:#0d0d0d;transform:scaleX(0.9575);transform-origin:left;-webkit-text-stroke-width:0.1px;">bleeds</div>
<div class="t" style="left:739.23px;top:19.02px;font-size:14.5px;line-height:14.5px;color:#8f3229;transform:translateX(-50%) scaleX(0.9604);transform-origin:center;">Children</div>
<div class="t" style="left:738.77px;top:38.02px;font-size:14.5px;line-height:14.5px;color:#8f3229;transform:translateX(-50%) scaleX(0.9457);transform-origin:center;">Haem A</div>
<div class="t" style="left:737.03px;top:56.22px;font-size:14.5px;line-height:14.5px;color:#8f3229;transform:translateX(-50%) scaleX(0.9984);transform-origin:center;">N=169</div>
<div class="t" style="left:760.76px;top:54.38px;font-size:9px;line-height:9px;font-weight:bold;color:#8f3229;transform:translateX(-50%) scaleX(0.9550);transform-origin:center;">*</div>
<div class="t" style="left:691.30px;top:85.81px;font-size:11.2px;line-height:11.2px;font-style:italic;transform:scaleX(1.0030);transform-origin:left;">* number of bleeds</div>
<div class="t" style="left:80.70px;top:561.21px;font-size:9.9px;line-height:9.9px;color:#fff;transform:scaleX(0.9360);transform-origin:left;-webkit-text-stroke-width:0.35px;">Czech National</div>
<div class="t" style="left:80.70px;top:572.41px;font-size:9.9px;line-height:9.9px;color:#fff;transform:scaleX(0.9217);transform-origin:left;-webkit-text-stroke-width:0.35px;">Hemophilia</div>
<div class="t" style="left:80.70px;top:583.01px;font-size:9.9px;line-height:9.9px;color:#fff;transform:scaleX(0.9033);transform-origin:left;-webkit-text-stroke-width:0.35px;">Program</div>
<div class="t" style="left:221.20px;top:572.06px;font-size:7.6px;line-height:7.6px;color:#fff;transform:scaleX(1.0808);transform-origin:left;-webkit-text-stroke-width:0.5px;">Institute</div>
<div class="t" style="left:221.20px;top:578.86px;font-size:7.6px;line-height:7.6px;color:#fff;transform:scaleX(1.0157);transform-origin:left;-webkit-text-stroke-width:0.5px;">of Biostatistics</div>
<div class="t" style="left:221.20px;top:585.56px;font-size:7.6px;line-height:7.6px;color:#fff;transform:scaleX(0.9826);transform-origin:left;-webkit-text-stroke-width:0.5px;">and Analyses</div>
</body></html>
